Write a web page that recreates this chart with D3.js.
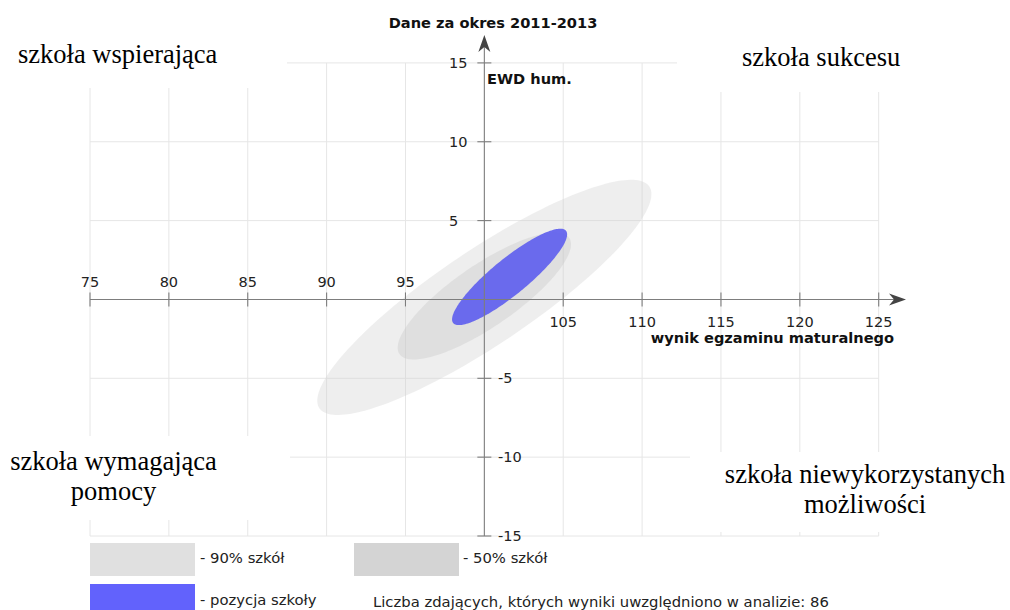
<!DOCTYPE html>
<html><head><meta charset="utf-8">
<script src="https://cdn.jsdelivr.net/npm/d3@7"></script>
<style>html,body{margin:0;padding:0;background:#fff;}svg{display:block;}</style>
</head><body>
<svg id="c" width="1010" height="610"></svg>
<script>
// ---- data ----
const xTicks = [75, 80, 85, 90, 95, 100, 105, 110, 115, 120, 125];
const yTicks = [15, 10, 5, 0, -5, -10, -15];
const ellipseNames = ["90% szkół", "50% szkół", "pozycja szkoły"];
const ellipseCx = [100.0, 100.0, 101.6];
const ellipseCy = [0.13, 0.22, 1.43];
const ellipseRx = [12.6, 6.52, 4.62];   // semi-major (data units)
const ellipseRy = [3.0, 1.97, 1.14];    // semi-minor (data units)
const ellipseAngle = [33.9, 34.4, 39.3]; // degrees
const quadrantLabels = [["szkoła wspierająca"], ["szkoła sukcesu"], ["szkoła wymagająca", "pomocy"], ["szkoła niewykorzystanych", "możliwości"]];
const title = "Dane za okres 2011-2013";
const yTitle = "EWD hum.";
const xTitle = "wynik egzaminu maturalnego";
const countNote = "Liczba zdających, których wyniki uwzględniono w analizie: 86";

// ---- drawing ----
const svg = d3.select("#c");
const x = d3.scaleLinear().domain([75, 125]).range([90, 878.7]);
const y = d3.scaleLinear().domain([-15, 15]).range([536, 62.9]);
const font = "'DejaVu Sans', sans-serif";

// grid
const grid = svg.append("g").attr("stroke", "#e6e6e6").attr("stroke-width", 1);
xTicks.filter(d => d !== 100).forEach(d => grid.append("line")
  .attr("x1", x(d)).attr("x2", x(d)).attr("y1", y(15)).attr("y2", y(-15)));
yTicks.filter(d => d !== 0).forEach(d => grid.append("line")
  .attr("x1", x(75)).attr("x2", x(125)).attr("y1", y(d)).attr("y2", y(d)));

// ellipses
const fills = ["#cfcfcf", "#c4c4c4", "#5f5fee"];
const opac = [0.35, 0.36, 0.92];
const line = d3.line().x(p => x(p[0])).y(p => y(p[1])).curve(d3.curveLinearClosed);
ellipseNames.forEach((n, i) => {
  const th = ellipseAngle[i] * Math.PI / 180;
  const pts = d3.range(0, 360, 2).map(t => {
    const r = t * Math.PI / 180;
    const u = ellipseRx[i] * Math.cos(r), v = ellipseRy[i] * Math.sin(r);
    return [ellipseCx[i] + u * Math.cos(th) - v * Math.sin(th),
            ellipseCy[i] + u * Math.sin(th) + v * Math.cos(th)];
  });
  svg.append("path").attr("d", line(pts)).attr("fill", fills[i]).attr("fill-opacity", opac[i]);
});

// axes
const ax = svg.append("g").attr("stroke", "#7d7d7d").attr("stroke-width", 1.1);
ax.append("line").attr("x1", x(75)).attr("x2", 898).attr("y1", y(0)).attr("y2", y(0));
ax.append("line").attr("x1", x(100)).attr("x2", x(100)).attr("y1", y(-15)).attr("y2", 42);
xTicks.filter(d => d !== 100).forEach(d => ax.append("line")
  .attr("x1", x(d)).attr("x2", x(d)).attr("y1", y(0) - 7).attr("y2", y(0) + 7));
yTicks.filter(d => d !== 0).forEach(d => ax.append("line")
  .attr("x1", x(100) - 7).attr("x2", x(100) + 7).attr("y1", y(d)).attr("y2", y(d)));
// arrowheads
const ox = x(100), oy = y(0);
svg.append("path").attr("fill", "#444")
  .attr("d", `M${ox},35 L${ox + 6},52 L${ox},47 L${ox - 6},52 Z`);
svg.append("path").attr("fill", "#444")
  .attr("d", `M906,${oy} L889,${oy - 6} L894,${oy} L889,${oy + 6} Z`);

// tick labels
const tl = svg.append("g").attr("font-family", font).attr("font-size", 14.5).attr("fill", "#222");
xTicks.filter(d => d !== 100).forEach(d => tl.append("text")
  .attr("x", x(d)).attr("y", d < 100 ? 287 : 327).attr("text-anchor", "middle").text(d));
yTicks.filter(d => d !== 0).forEach(d => tl.append("text")
  .attr("x", d > 0 ? 449 : 498).attr("y", y(d) + 5).text(d));

// titles
svg.append("text").attr("x", 493).attr("y", 28).attr("text-anchor", "middle")
  .attr("font-family", font).attr("font-weight", "bold").attr("font-size", 14.6).attr("fill", "#111").text(title);
svg.append("text").attr("x", 487).attr("y", 84)
  .attr("font-family", font).attr("font-weight", "bold").attr("font-size", 14.6).attr("fill", "#111").text(yTitle);
svg.append("text").attr("x", 894).attr("y", 343).attr("text-anchor", "end")
  .attr("font-family", font).attr("font-weight", "bold").attr("font-size", 14.6).attr("fill", "#111").text(xTitle);

// quadrant labels with white boxes
const boxes = [[0, 0, 287, 88], [677, 0, 333, 92], [0, 436, 290, 84], [690, 452, 320, 80]];
boxes.forEach(b => svg.append("rect").attr("x", b[0]).attr("y", b[1]).attr("width", b[2]).attr("height", b[3]).attr("fill", "#fff"));
const qpos = [[18, 63, "start"], [742, 66, "start"], [113.5, 470, "middle"], [865, 483, "middle"]];
quadrantLabels.forEach((lines, i) => {
  lines.forEach((t, j) => svg.append("text").attr("x", qpos[i][0]).attr("y", qpos[i][1] + j * 29.5)
    .attr("text-anchor", qpos[i][2]).attr("font-family", "'Liberation Serif', 'Times New Roman', serif")
    .attr("font-size", 26.5).attr("fill", "#000").text(t));
});

// legend
const legFill = ["#e0e0e0", "#d4d4d4", "#6262fc"];
const legPos = [[90, 543, 200, 562.5], [354, 543, 463, 562.5], [90, 584, 200, 604.5]];
ellipseNames.forEach((n, i) => {
  svg.append("rect").attr("x", legPos[i][0]).attr("y", legPos[i][1]).attr("width", 105).attr("height", 33).attr("fill", legFill[i]);
  svg.append("text").attr("x", legPos[i][2]).attr("y", legPos[i][3]).attr("font-family", font)
    .attr("font-size", 14.8).attr("fill", "#222").text("- " + n);
});
svg.append("text").attr("x", 373).attr("y", 606.5).attr("font-family", font)
  .attr("font-size", 14.8).attr("fill", "#222").text(countNote);
</script>
</body></html>
